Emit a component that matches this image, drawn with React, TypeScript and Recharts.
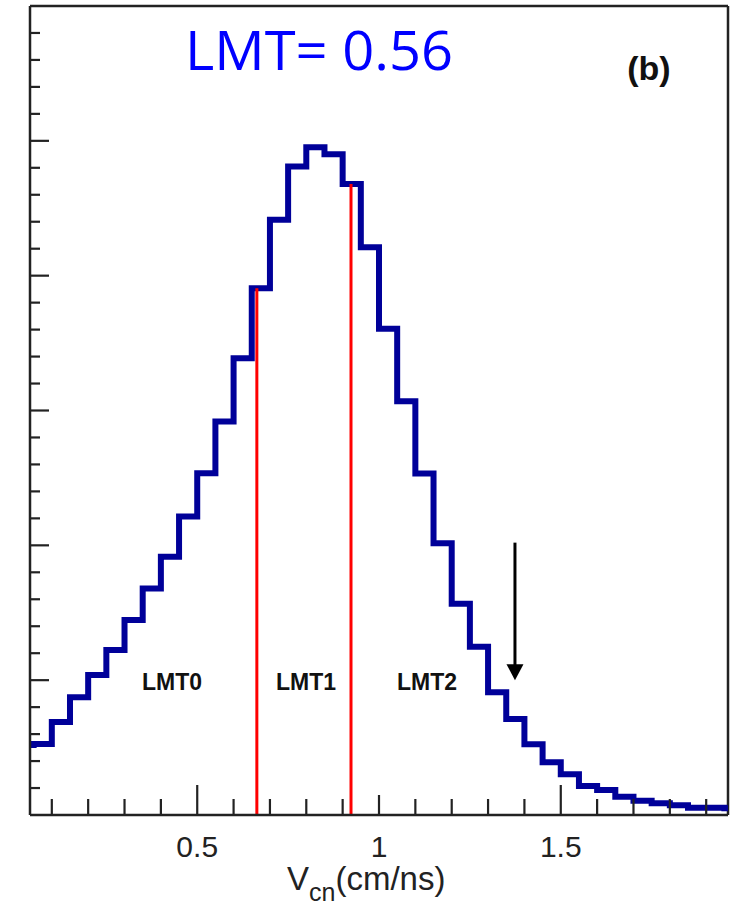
import { ComposedChart, Line, ReferenceLine, XAxis, YAxis } from "recharts";

// lower edge of each 0.05-wide bin, and the bin height (arbitrary units)
const binLow = [
  0.0, 0.05, 0.1, 0.15, 0.2, 0.25, 0.3, 0.35, 0.4, 0.45,
  0.5, 0.55, 0.6, 0.65, 0.7, 0.75, 0.8, 0.85, 0.9, 0.95,
  1.0, 1.05, 1.1, 1.15, 1.2, 1.25, 1.3, 1.35, 1.4, 1.45,
  1.5, 1.55, 1.6, 1.65, 1.7, 1.75, 1.8, 1.85, 1.9, 1.95,
];
const counts = [
  0.52, 0.527, 0.69, 0.873, 1.039, 1.224, 1.447, 1.68, 1.916, 2.213,
  2.535, 2.918, 3.388, 3.907, 4.414, 4.81, 4.953, 4.9, 4.68, 4.21,
  3.606, 3.068, 2.533, 2.016, 1.566, 1.248, 0.91, 0.712, 0.524, 0.391,
  0.302, 0.215, 0.185, 0.136, 0.106, 0.087, 0.072, 0.054, 0.054, 0.05,
];
const binWidth = 0.05;

// LMT cut positions (red lines)
const cuts = [0.664, 0.923];
const regionLabels = ["LMT0", "LMT1", "LMT2"];

// arrow marker
const arrowX = 1.374;
const arrowTop = 2.02;
const arrowTip = 1.0;

const xTicks = [
  0.1, 0.2, 0.3, 0.4, 0.5, 0.6, 0.7, 0.8, 0.9, 1.0,
  1.1, 1.2, 1.3, 1.4, 1.5, 1.6, 1.7, 1.8, 1.9,
];
const xLabelValues = [0.5, 1, 1.5];
const xLabelTexts = ["0.5", "1", "1.5"];
const yTicks = [
  0.2, 0.4, 0.6, 0.8, 1, 1.2, 1.4, 1.6, 1.8, 2,
  2.2, 2.4, 2.6, 2.8, 3, 3.2, 3.4, 3.6, 3.8, 4,
  4.2, 4.4, 4.6, 4.8, 5, 5.2, 5.4, 5.6, 5.8,
];

const data = [
  ...binLow.map((x, i) => ({ x, y: counts[i] })),
  { x: binLow[binLow.length - 1] + binWidth, y: counts[counts.length - 1] },
];

const heightAt = (v: number) => {
  let idx = 0;
  binLow.forEach((b, i) => {
    if (v >= b) idx = i;
  });
  return counts[idx];
};

const FRAME = "#222";
const FONT = "'Liberation Sans', Arial, Helvetica, sans-serif";

function XTick(props: any) {
  const { x, y, payload } = props;
  const v = payload.value as number;
  const li = xLabelValues.findIndex((l) => Math.abs(l - v) < 1e-6);
  const len = li < 0 ? 16 : v === 1 ? 20 : 30;
  return (
    <g>
      <line x1={x} y1={y} x2={x} y2={y - len} stroke={FRAME} strokeWidth={2.2} />
      {li >= 0 && (
        <text x={x} y={y + 42} textAnchor="middle" fontFamily={FONT} fontSize={30} fill="#222">
          {xLabelTexts[li]}
        </text>
      )}
    </g>
  );
}

function YTick(props: any) {
  const { x, y, payload } = props;
  const v = payload.value as number;
  const major = Math.abs(v - Math.round(v)) < 1e-6;
  return <line x1={x} y1={y} x2={x + (major ? 19 : 10)} y2={y} stroke={FRAME} strokeWidth={2.2} />;
}

export default function App() {
  return (
    <div style={{ position: "absolute", left: 0, top: 0, width: 734, height: 906, background: "#fff" }}>
      <ComposedChart width={734} height={906} data={data} margin={{ top: 6, right: 6, bottom: 90, left: 29 }}>
        <XAxis
          dataKey="x"
          type="number"
          domain={[0.04, 1.96]}
          allowDataOverflow
          ticks={xTicks}
          interval={0}
          height={1}
          tickSize={0}
          tickMargin={0}
          tickLine={false}
          tick={<XTick />}
          axisLine={{ stroke: FRAME, strokeWidth: 2.5 }}
        />
        <YAxis
          type="number"
          domain={[0, 6]}
          allowDataOverflow
          ticks={yTicks}
          interval={0}
          width={1}
          tickSize={0}
          tickMargin={0}
          tickLine={false}
          tick={<YTick />}
          axisLine={{ stroke: FRAME, strokeWidth: 2.5 }}
        />
        <ReferenceLine y={6} stroke={FRAME} strokeWidth={2.5} />
        <ReferenceLine x={1.96} stroke={FRAME} strokeWidth={2.5} />
        <Line
          type="stepAfter"
          dataKey="y"
          stroke="#000099"
          strokeWidth={6}
          dot={false}
          activeDot={false}
          isAnimationActive={false}
        />
        {cuts.map((c) => (
          <ReferenceLine
            key={c}
            segment={[
              { x: c, y: 0 },
              { x: c, y: heightAt(c) },
            ]}
            stroke="#ff0000"
            strokeWidth={3}
          />
        ))}
        <ReferenceLine
          segment={[
            { x: arrowX, y: arrowTop },
            { x: arrowX, y: arrowTip },
          ]}
          shape={(p: any) => (
            <g>
              <line x1={p.x1} y1={p.y1} x2={p.x2} y2={p.y2 - 12} stroke="#000" strokeWidth={3} />
              <polygon
                points={`${p.x2 - 8.5},${p.y2 - 16} ${p.x2 + 8.5},${p.y2 - 16} ${p.x2},${p.y2}`}
                fill="#000"
              />
            </g>
          )}
        />
      </ComposedChart>
      <svg
        width={734}
        height={906}
        style={{ position: "absolute", left: 0, top: 0, pointerEvents: "none" }}
      >
        <text
          x={185}
          y={70}
          fontFamily="'Open Sans', sans-serif"
          fontSize={54}
          fill="#0000ff"
          textLength={268}
          lengthAdjust="spacingAndGlyphs"
        >
          LMT= 0.56
        </text>
        <text x={649} y={80} textAnchor="middle" fontFamily={FONT} fontWeight="bold" fontSize={34} fill="#111">
          (b)
        </text>
        {regionLabels.map((t, i) => (
          <text
            key={t}
            x={[172, 306, 427][i]}
            y={690}
            textAnchor="middle"
            fontFamily={FONT}
            fontWeight="bold"
            fontSize={23}
            fill="#111"
          >
            {t}
          </text>
        ))}
        <text x={287} y={890} fontFamily={FONT} fontSize={33} fill="#222">
          V
          <tspan fontSize={25} dy={11}>cn</tspan>
          <tspan dy={-11}>(cm/ns)</tspan>
        </text>
      </svg>
    </div>
  );
}
